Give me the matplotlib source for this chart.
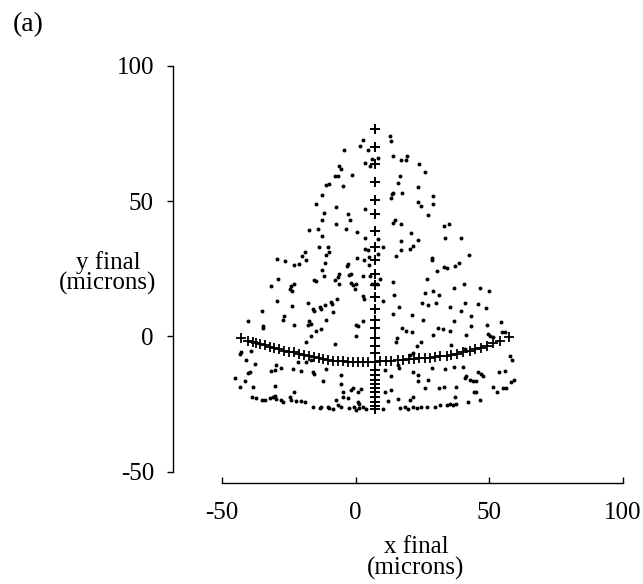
import matplotlib.pyplot as plt

plt.rcParams['font.family'] = ['Liberation Serif', 'DejaVu Serif']

# scattered final positions (dots)
dots = [
    (2.6, 72.6), (1.6, 70.6), (4.5, 68.9), (-4.5, 68.8), (3.6, 64.2), (-6.1, 63.2), (-5.5, 62.0),
    (-6.7, 59.5), (-7.6, 59.5), (-1.5, 59.6), (-11.1, 55.9), (-9.8, 56.4), (-4.6, 55.6), (-12.7, 52.2),
    (-14.8, 48.8), (-7.4, 47.9), (-11.9, 45.7), (-2.7, 45.1), (3.5, 47.2),
    (12.8, 74.1), (13.4, 72.2), (6.0, 65.7), (8.3, 65.9), (5.3, 63.0), (14.1, 66.9), (17.0, 65.4),
    (19.3, 66.7), (19.0, 65.1), (23.8, 63.8), (25.9, 60.9), (16.5, 59.3), (15.7, 56.8), (23.4, 55.2),
    (14.1, 53.1), (13.5, 52.7), (17.2, 52.9), (13.1, 51.1), (29.0, 52.1), (23.4, 49.8), (24.3, 48.4),
    (29.0, 48.8), (27.1, 44.8),
    (-12.6, 43.2), (-2.1, 43.0), (-7.3, 41.7), (-3.8, 39.9), (-14.2, 39.9), (-17.3, 39.3), (0.4, 38.7),
    (-12.7, 37.0), (3.6, 36.4), (-13.8, 33.1), (-10.4, 32.9), (-9.8, 31.3), (-11.1, 30.0), (-19.1, 31.3),
    (-20.0, 29.6), (-18.5, 28.4), (-29.4, 28.5), (-26.4, 27.8), (-22.9, 26.6), (-21.3, 26.7), (-11.3, 27.3),
    (-3.0, 26.9), (-3.2, 26.0), (0.4, 29.0), (3.6, 32.5), (4.5, 31.9), (3.2, 28.2), (4.9, 26.3),
    (-12.6, 24.4), (-11.7, 22.2), (-6.1, 23.2), (-6.7, 22.0), (-7.6, 20.7), (-6.1, 19.3), (-2.6, 22.6),
    (-1.7, 23.2), (-15.4, 20.7), (-14.8, 20.4), (-29.1, 21.1), (-31.6, 18.5), (-22.9, 19.5), (-24.1, 18.5),
    (-24.4, 17.7), (-23.9, 16.8), (0.0, 19.5), (-0.1, 17.7), (-1.7, 19.8), (-1.1, 19.2), (2.6, 22.2),
    (2.6, 14.8), (3.2, 14.0), (-29.4, 13.0), (-23.9, 11.1), (-17.7, 12.3), (-16.0, 10.3), (-15.4, 9.4),
    (-13.5, 10.9), (-12.9, 10.3), (-11.3, 11.8), (-9.2, 12.7), (-8.8, 12.1), (-7.0, 13.7), (-35.0, 9.4),
    (14.7, 42.9), (14.1, 42.1), (16.8, 41.7), (32.9, 40.9), (34.8, 41.7), (20.6, 38.4), (8.5, 36.2),
    (16.9, 35.3), (23.4, 35.8), (33.3, 36.4), (39.5, 36.4), (10.1, 33.1), (8.5, 30.6), (5.1, 29.4),
    (5.3, 22.4), (9.1, 21.4), (6.0, 19.3), (8.1, 19.5), (10.3, 13.1), (16.9, 32.1), (20.3, 32.5),
    (21.5, 33.3), (15.0, 29.6), (28.4, 29.0), (28.7, 28.2), (33.1, 25.7), (34.3, 25.4), (37.1, 25.9),
    (38.5, 27.2), (42.4, 30.0), (30.6, 24.2), (26.5, 21.4), (14.1, 20.1), (36.8, 18.0), (40.4, 19.3),
    (46.4, 18.0), (49.9, 16.7), (26.1, 16.1), (29.0, 16.7), (31.1, 15.2), (14.4, 15.4), (24.9, 12.2),
    (27.1, 11.7), (30.2, 12.5), (16.3, 10.9), (35.4, 10.9), (41.0, 12.2), (45.8, 12.1), (48.6, 10.6),
    (39.5, 9.4),
    (-26.9, 7.4), (-27.2, 6.2), (-22.9, 4.1), (-17.3, 5.6), (-16.7, 4.7), (-17.9, 4.3), (-12.9, 2.9),
    (-14.8, 1.9), (-16.7, 0.3), (-18.5, -2.2), (-11.1, 6.2), (-8.6, 8.9), (0.1, 4.3), (0.7, 3.7),
    (2.6, 5.6), (0.1, 0.0), (-7.6, -2.7), (-34.7, 3.9), (-34.7, 3.1), (-40.3, 5.8), (-42.8, -5.6),
    (-43.4, -6.5), (-39.1, -5.2), (-40.9, -8.6), (-37.5, -10.1), (-39.7, -13.3), (-40.3, -13.6),
    (-45.3, -15.4), (-41.3, -16.3), (-43.4, -18.5), (-38.4, -18.7), (-29.7, -10.5), (-30.3, -12.3),
    (-31.6, -12.9), (-27.9, -11.7), (-23.5, -12.1), (-20.4, -12.7), (-16.0, -13.3), (-15.4, -13.8),
    (-11.1, -12.1), (-12.3, -16.4), (-21.6, -9.3), (-18.5, -9.3), (-16.7, -8.6), (-30.3, -18.3),
    (-5.5, -14.2), (-5.5, -17.5), (-4.9, -20.4), (-1.7, -19.7), (-1.1, -18.9), (0.7, -20.7), (2.0, -19.5),
    (-38.7, -22.4), (-37.2, -22.8), (-35.0, -23.4), (-34.1, -23.4), (-32.2, -22.8), (-31.0, -22.4),
    (-29.7, -23.2), (-30.3, -22.0), (-27.9, -23.4), (-27.2, -24.4), (-24.7, -22.4), (-24.1, -23.4),
    (-22.9, -20.4), (-22.3, -23.7), (-20.4, -23.7), (-19.1, -24.1), (-16.0, -25.9), (-13.5, -26.5),
    (-12.9, -25.9), (-10.4, -25.9), (-9.8, -26.5), (-8.6, -26.9), (-6.7, -25.3), (-5.5, -26.2),
    (-7.3, -23.4), (-4.9, -22.4), (-3.0, -22.8), (-2.4, -26.5), (-0.5, -25.9), (0.1, -27.2), (1.4, -26.5),
    (2.6, -25.9), (0.7, -24.1), (1.4, -25.0), (3.8, -26.9),
    (14.1, 8.4), (20.9, 7.8), (25.0, 6.2), (30.9, 3.1), (32.7, 2.9), (36.7, 5.6), (35.2, 1.9), (29.0, 0.6),
    (43.3, 7.7), (43.3, 4.0), (49.1, 4.3), (54.5, 5.2), (41.4, 0.4), (49.5, 0.9), (50.1, 0.3), (51.4, -0.2),
    (54.9, 1.6), (56.0, 1.8), (15.3, -0.6), (15.0, -1.9), (17.2, 3.1), (19.0, 2.2), (20.9, 1.6),
    (22.8, -3.7), (24.6, -2.1), (21.5, -6.1), (20.3, -6.8), (35.6, -3.1), (40.8, -4.7), (57.9, -7.1),
    (58.6, -8.6), (10.9, -12.3), (13.4, -14.6), (15.9, -10.5), (16.3, -11.7), (21.5, -13.3), (23.4, -14.2),
    (23.4, -16.4), (28.4, -11.7), (33.3, -12.1), (36.7, -11.3), (40.2, -11.3), (26.9, -16.0), (25.9, -19.1),
    (31.1, -19.1), (32.9, -18.7), (37.7, -18.5), (41.4, -14.8), (42.6, -16.0), (40.8, -15.4), (43.9, -16.4),
    (45.1, -16.3), (45.8, -13.3), (47.0, -13.8), (47.6, -14.8), (44.1, -20.4), (45.1, -20.4), (51.4, -18.5),
    (53.0, -20.4), (55.1, -18.9), (56.3, -18.9), (53.8, -13.3), (55.7, -12.7), (58.2, -16.7), (59.4, -16.0),
    (10.9, -20.7), (13.4, -19.7), (15.9, -23.2), (12.2, -23.7), (20.3, -23.4), (21.5, -22.2), (16.5, -26.5),
    (18.4, -26.2), (19.7, -26.9), (21.5, -26.2), (22.8, -26.5), (24.6, -26.2), (26.5, -26.2), (29.6, -26.2),
    (31.5, -25.2), (34.0, -25.3), (35.2, -25.0), (36.5, -25.3), (37.7, -25.0), (42.0, -24.4), (46.4, -23.4),
    (37.1, -22.4), (10.3, -26.9),
]
dots_x = [p[0] for p in dots]
dots_y = [p[1] for p in dots]

# vertical line of "+" markers
vert_x = 7.2
vert_y = [76.8, 70.1, 63.6, 57.0, 50.6, 45.1, 39.0, 33.1, 28.1, 23.2, 18.9, 14.6, 10.3, 6.2, 3.1,
          -0.4, -3.4, -6.1, -12.3, -14.2, -16.0, -17.5, -19.1, -20.7, -22.4, -24.1, -25.7, -26.9]

# horizontal curve of "+" markers
curve_x = [-42.8, -40.3, -38.4, -37.2, -35.6, -34.1, -32.2, -30.6, -28.7, -26.9, -25.0, -23.1, -21.3,
           -19.4, -17.5, -15.7, -13.8, -12.3, -10.4, -8.6, -6.7, -4.9, -3.0, -1.1, 0.7, 2.6, 4.5, 7.2,
           9.1, 11.3, 13.4, 15.7, 17.8, 20.0, 21.9, 23.8, 25.9, 27.7, 29.6, 31.7, 34.0, 35.8, 37.9,
           40.2, 42.7, 44.5, 47.0, 49.1, 51.4, 54.1, 57.2]
curve_y = [-0.6, -1.6, -2.1, -2.5, -2.8, -3.3, -3.9, -4.3, -4.7, -5.2, -5.6, -5.9, -6.4,
           -6.8, -7.1, -7.5, -7.8, -8.3, -8.6, -8.9, -9.0, -9.1, -9.3, -9.4, -9.4, -9.5, -9.5, -9.4,
           -9.0, -9.0, -8.9, -8.6, -8.6, -8.4, -8.4, -8.1, -8.0, -7.8, -7.6, -7.4, -7.1, -6.9, -6.5,
           -5.9, -5.2, -4.6, -4.1, -3.4, -2.5, -1.5, -0.2]

ticks = [-50, 0, 50, 100]

W, H = 643, 584
fig = plt.figure(figsize=(W / 100, H / 100), dpi=100)
ax = fig.add_axes([222 / W, 1 - 471.7 / H, 401 / W, 405.7 / H])

ax.scatter(dots_x, dots_y, s=8, marker='o', color='black', linewidths=0)
ax.plot([vert_x] * len(vert_y), vert_y, linestyle='none', marker='+', markersize=7.5,
        markeredgewidth=1.4, color='black')
ax.plot(curve_x, curve_y, linestyle='none', marker='+', markersize=7,
        markeredgewidth=1.3, color='black')

ax.set_xlim(-50, 100)
ax.set_ylim(-50, 100)
ax.set_xticks(ticks)
ax.set_yticks(ticks)
ax.set_xticklabels([str(t) for t in ticks])
ax.set_yticklabels([str(t) for t in ticks])

for s in ['top', 'right']:
    ax.spines[s].set_visible(False)
ax.spines['left'].set_position(('outward', 35))
ax.spines['bottom'].set_position(('outward', 8))
ax.spines['left'].set_linewidth(1.0)
ax.spines['bottom'].set_linewidth(1.0)

ax.tick_params(axis='y', direction='out', length=4, width=1, pad=10, labelsize=18)
ax.tick_params(axis='x', direction='in', length=4, width=1, pad=14, labelsize=18)

fig.text(28 / W, 1 - 25 / H, '(a)', fontsize=20, ha='center', va='center')
fig.text(108 / W, 1 - 273 / H, 'y final\n(microns)', fontsize=18, ha='center', va='center',
         linespacing=0.9)
fig.text(416 / W, 1 - 558 / H, 'x final\n(microns)', fontsize=18, ha='center', va='center',
         linespacing=0.9)

fig.savefig('out.png', dpi=100)
